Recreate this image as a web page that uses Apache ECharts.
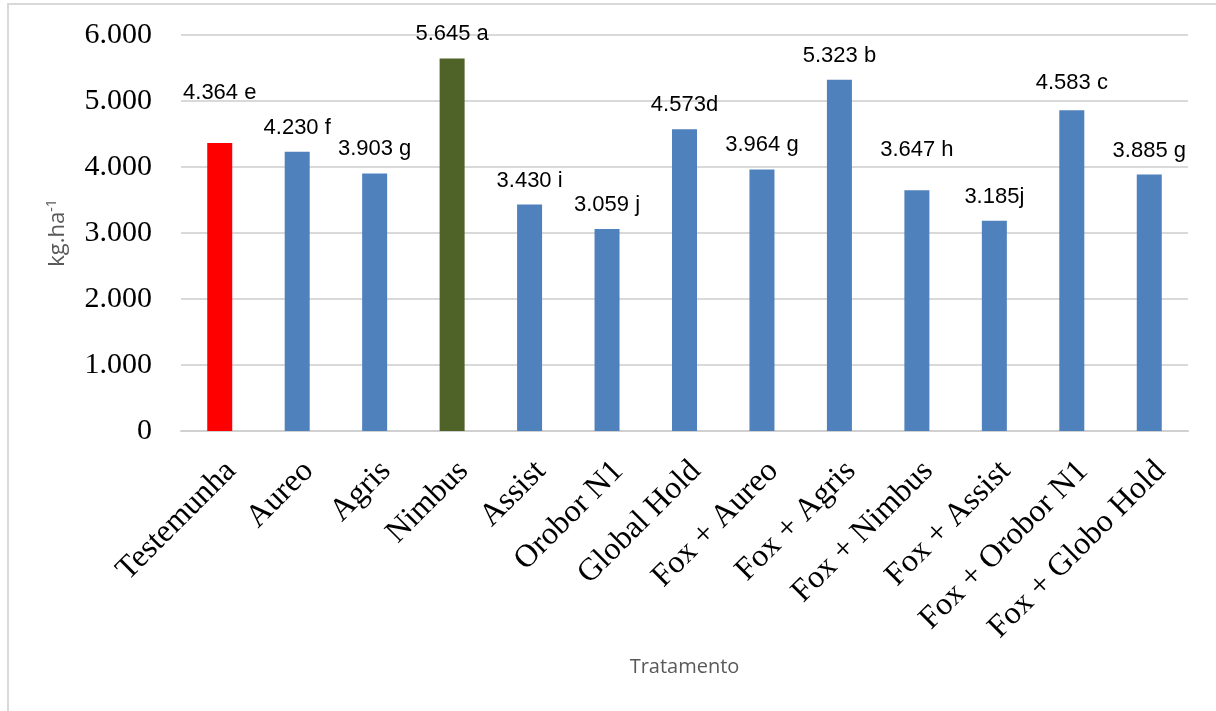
<!DOCTYPE html>
<html><head><meta charset="utf-8">
<script src="https://cdn.jsdelivr.net/npm/echarts@6/dist/echarts.min.js"></script>
<style>html,body{margin:0;padding:0;background:#fff}#c{width:1216px;height:711px}</style>
</head><body><div id="c"></div>
<script>
const categories = ['Testemunha','Aureo','Agris','Nimbus','Assist','Orobor N1','Global Hold','Fox + Aureo','Fox + Agris','Fox + Nimbus','Fox + Assist','Fox + Orobor N1','Fox + Globo Hold'];
const values = [4364, 4230, 3903, 5645, 3430, 3059, 4573, 3964, 5323, 3647, 3185, 4860, 3885];
const labelTexts = ['4.364 e','4.230 f','3.903 g','5.645 a','3.430 i','3.059 j','4.573d','3.964 g','5.323 b','3.647 h','3.185j','4.583 c','3.885 g'];
const barColors = ['#ff0000','#4f81bd','#4f81bd','#4f6228','#4f81bd','#4f81bd','#4f81bd','#4f81bd','#4f81bd','#4f81bd','#4f81bd','#4f81bd','#4f81bd'];
const yTicks = [0, 1000, 2000, 3000, 4000, 5000, 6000];

// layout-only label nudges (px)
const labelLift = [26, 0, 0, 0, 0, 0, 0, 0, 0, 16, 0, 3, 0];

function fmt(v){ return v === 0 ? '0' : (v/1000).toFixed(3); }

const chart = echarts.init(document.getElementById('c'));
chart.setOption({
  animation: false,
  backgroundColor: '#fff',
  graphic: [{
    type: 'rect', shape: {x: 8, y: 4, width: 1300, height: 800},
    style: {fill: 'none', stroke: '#d9d9d9', lineWidth: 2}, silent: true
  }],
  grid: {left: 181, right: 28, top: 35, bottom: 280, containLabel: false},
  xAxis: {
    type: 'category', data: categories,
    axisLine: {show: true, lineStyle: {color: '#d0d0d0', width: 2}},
    axisTick: {show: false},
    axisLabel: {rotate: 45, interval: 0, fontFamily: 'Liberation Serif', fontSize: 32, color: '#000', margin: 24, verticalAlign: 'top'},
    name: 'Tratamento', nameLocation: 'middle', nameGap: 226,
    nameTextStyle: {fontFamily: 'Open Sans', fontSize: 20, color: '#595959'}
  },
  yAxis: {
    type: 'value', min: 0, max: 6000, interval: 1000,
    axisLine: {show: false}, axisTick: {show: false},
    splitLine: {lineStyle: {color: '#d9d9d9', width: 2}},
    axisLabel: {formatter: v => yTicks.includes(v) ? fmt(v) : '', fontFamily: 'Liberation Serif', fontSize: 30, color: '#000', margin: 29},
    name: 'kg.ha{sup|-1}', nameLocation: 'middle', nameGap: 110, nameRotate: 90,
    nameTextStyle: {fontFamily: 'Open Sans', fontSize: 22, color: '#595959',
      rich: {sup: {fontFamily: 'Open Sans', fontSize: 14, color: '#595959', verticalAlign: 'top', padding: [0,0,12,0]}}}
  },
  series: [{
    type: 'bar', barWidth: 25,
    data: values.map((v, i) => ({
      value: v,
      itemStyle: {color: barColors[i]},
      label: {offset: [0, -labelLift[i]]}
    })),
    label: {
      show: true, position: 'top', distance: 13,
      formatter: p => labelTexts[p.dataIndex],
      fontFamily: 'Liberation Sans', fontSize: 22, color: '#000'
    }
  }]
});
</script></body></html>
